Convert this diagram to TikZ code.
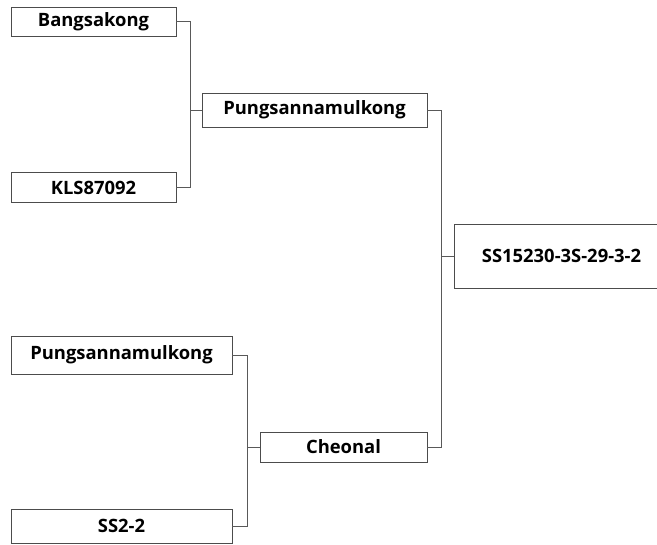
\documentclass[tikz,border=0pt]{standalone}
\usepackage{fontspec}
\setmainfont{Open Sans}
\begin{document}
\begin{tikzpicture}[x=1pt,y=-1pt,
    entry/.style={draw=black!70,line width=0.8pt,fill=white,inner sep=0pt,
      font=\bfseries\fontsize{18.4}{22}\selectfont},
    link/.style={draw=black!65,line width=0.8pt}]
    \useasboundingbox (0,0) rectangle (657,545);
    % parents, first row
    \node[entry,minimum width=165pt,minimum height=29pt] (bang) at (93.5,21.5) {Bangsakong};
    \node[entry,minimum width=165pt,minimum height=30pt] (kls) at (93.5,187.5) {KLS87092};
    \node[entry,minimum width=221pt,minimum height=38pt] (pungb) at (121.5,355) {Pungsannamulkong};
    \node[entry,minimum width=221pt,minimum height=34pt] (ssb) at (121.5,526) {SS2-2};
    % second row
    \node[entry,minimum width=225pt,minimum height=34pt] (pung) at (314.5,110) {Pungsannamulkong};
    \node[entry,minimum width=167pt,minimum height=30pt] (cheo) at (343.5,447) {Cheonal};
    % line
    \node[entry,minimum width=215pt,minimum height=64pt] (ss) at (561.5,256) {SS15230-3S-29-3-2};

    \coordinate (m1) at (190,0);
    \coordinate (m2) at (247,0);
    \coordinate (m3) at (441,0);

    \draw[link] (bang.east) -| (m1 |- kls.east) -- (kls.east);
    \draw[link] (m1 |- pung.west) -- (pung.west);
    \draw[link] (pungb.east) -| (m2 |- ssb.east) -- (ssb.east);
    \draw[link] (m2 |- cheo.west) -- (cheo.west);
    \draw[link] (pung.east) -| (m3 |- cheo.east) -- (cheo.east);
    \draw[link] (m3 |- ss.west) -- (ss.west);
\end{tikzpicture}
\end{document}
